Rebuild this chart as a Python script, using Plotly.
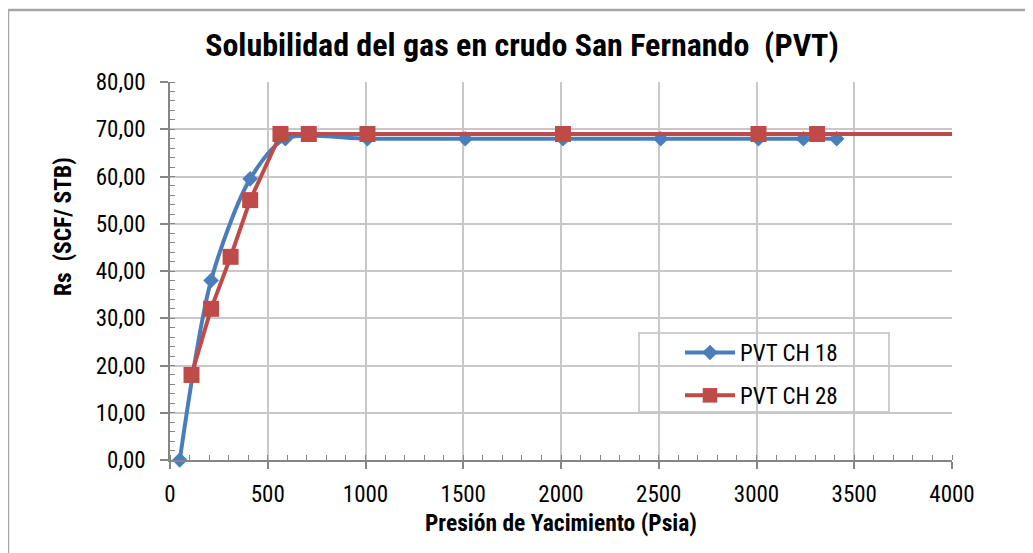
import plotly.graph_objects as go

# ---- data ----
ch18_p = [50, 210, 410, 590, 1010, 1510, 2010, 2510, 3010, 3240, 3410]
ch18_rs = [0.0, 38.0, 59.5, 68.0, 68.0, 68.0, 68.0, 68.0, 68.0, 68.0, 68.0]

ch28_p = [110, 210, 310, 410, 565, 710, 1010, 2010, 3010, 3310, 4000]
ch28_rs = [18.0, 32.0, 43.0, 55.0, 69.0, 69.0, 69.0, 69.0, 69.0, 69.0, 69.0]
ch28_marker = [16, 16, 16, 16, 16, 16, 16, 16, 16, 16, 0]

x_ticks = [0, 500, 1000, 1500, 2000, 2500, 3000, 3500, 4000]
y_ticks = [0, 10, 20, 30, 40, 50, 60, 70, 80]
y_ticklabels = ["0,00", "10,00", "20,00", "30,00", "40,00", "50,00", "60,00", "70,00", "80,00"]

title = "Solubilidad del gas en crudo San Fernando  (PVT)"
x_title = "Presión de Yacimiento (Psia)"
y_title = "Rs  (SCF/ STB)"

BLUE = "#4A7EBB"
RED = "#BE4B48"
FONT = "Liberation Sans Narrow, Arial Narrow, Roboto Condensed, Liberation Sans, Arial"

OFF = 8  # browser body margin
W, H = 1033 - OFF, 553 - OFF
L, T = 170 - OFF, 82 - OFF
R = W - (952 - OFF)
B = H - (460 - OFF)
PW, PH = W - L - R, H - T - B


def px(xs):
    return (xs - OFF - L) / PW


def py(ys):
    return (H - B - (ys - OFF)) / PH


fig = go.Figure()
fig.add_trace(go.Scatter(
    x=ch18_p, y=ch18_rs, name="PVT CH 18", mode="lines+markers",
    line=dict(color=BLUE, width=4, shape="spline", smoothing=0.8),
    marker=dict(symbol="diamond", size=12, color=BLUE, opacity=1, line=dict(width=0)),
    legendgroup="a", cliponaxis=False,
))
fig.add_trace(go.Scatter(
    x=ch28_p, y=ch28_rs, name="PVT CH 28", mode="lines+markers",
    line=dict(color=RED, width=4),
    marker=dict(symbol="square", size=ch28_marker, color=RED, opacity=1, line=dict(width=0)),
    legendgroup="b", cliponaxis=False,
))

fig.update_layout(
    width=W, height=H,
    margin=dict(l=L, r=R, t=T, b=B, autoexpand=False),
    paper_bgcolor="white", plot_bgcolor="white",
    font=dict(family=FONT, size=23, color="black"),
    title=dict(text="<b>" + title + "</b>", x=(522 - OFF) / W, xanchor="center",
               y=1 - (45 - OFF) / H, yanchor="middle", yref="container", xref="container",
               font=dict(family=FONT, size=32, color="black")),
    showlegend=True,
    legend=dict(x=px(680), y=py(331), xanchor="left", yanchor="top",
                bgcolor="rgba(0,0,0,0)", borderwidth=0,
                font=dict(family=FONT, size=23, color="black"),
                itemwidth=50, traceorder="grouped", tracegroupgap=10),
)

fig.update_xaxes(
    range=[0, 4000], tickvals=x_ticks, ticktext=[str(v) for v in x_ticks],
    showgrid=True, gridcolor="#C8C8C8", gridwidth=1.5,
    showline=True, linecolor="#868686", linewidth=1.5,
    ticks="outside", ticklen=7, tickcolor="#868686", tickwidth=1.5,
    minor=dict(dtick=100, ticks="inside", ticklen=5, tickcolor="#868686", tickwidth=1, showgrid=False),
    zeroline=False, ticklabelstandoff=6,
    tickfont=dict(family=FONT, size=23, color="black"),
)
fig.update_yaxes(
    range=[0, 80], tickvals=y_ticks, ticktext=y_ticklabels,
    showgrid=True, gridcolor="#C8C8C8", gridwidth=1.5,
    showline=True, linecolor="#868686", linewidth=1.5,
    ticks="outside", ticklen=8, tickcolor="#868686", tickwidth=1.5,
    minor=dict(dtick=2, ticks="inside", ticklen=5, tickcolor="#868686", tickwidth=1, showgrid=False),
    zeroline=False, ticklabelstandoff=10,
    tickfont=dict(family=FONT, size=23, color="black"),
)

fig.add_annotation(text="<b>" + x_title + "</b>", xref="paper", yref="paper",
                   x=px(561), y=py(523), xanchor="center", yanchor="middle",
                   showarrow=False, font=dict(family=FONT, size=23.5, color="black"))
fig.add_annotation(text="<b>" + y_title + "</b>", xref="paper", yref="paper",
                   x=px(63), y=py(227), xanchor="center", yanchor="middle", textangle=-90,
                   showarrow=False, font=dict(family=FONT, size=23.5, color="black"))

# legend frame
fig.add_shape(type="rect", xref="paper", yref="paper",
              x0=px(639), x1=px(889), y0=py(412), y1=py(333),
              line=dict(color="#BFBFBF", width=1.5), fillcolor="rgba(0,0,0,0)", layer="below")
# chart border (left and top edges visible)
fig.add_shape(type="line", xref="paper", yref="paper",
              x0=px(8), x1=px(8), y0=py(10), y1=py(560),
              line=dict(color="#A6A6A6", width=2.5))
fig.add_shape(type="line", xref="paper", yref="paper",
              x0=px(8), x1=px(1040), y0=py(10), y1=py(10),
              line=dict(color="#A6A6A6", width=2.5))

fig.write_html("out.html")
